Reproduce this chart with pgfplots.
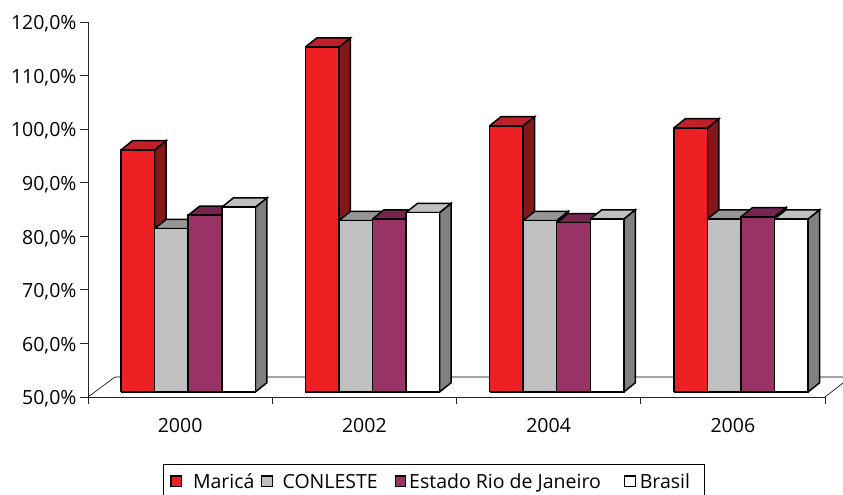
\documentclass[border=0pt]{standalone}
\usepackage{fontspec}
\setmainfont{Open Sans}
\usepackage{pgfplots}
\usepackage{pgfplotstable}
\pgfplotsset{compat=1.18}
\definecolor{redF}{HTML}{ED2024}
\definecolor{redT}{HTML}{C1202A}
\definecolor{redS}{HTML}{85161A}
\definecolor{grayF}{HTML}{C0C0C0}
\definecolor{grayT}{HTML}{969696}
\definecolor{grayS}{HTML}{707070}
\definecolor{purF}{HTML}{993366}
\definecolor{purT}{HTML}{772550}
\definecolor{purS}{HTML}{4D1A33}
\definecolor{whiF}{HTML}{FFFFFF}
\definecolor{whiT}{HTML}{C0C0C0}
\definecolor{whiS}{HTML}{808080}
\newcommand\fs{\fontsize{19.5}{23}\selectfont}

\pgfplotstableread{
year marica conleste estado brasil
2000 95.2 80.5 83.0 84.5
2002 114.4 82.0 82.3 83.5
2004 99.7 82.0 81.6 82.3
2006 99.3 82.3 82.7 82.3
}\datatable

\newcommand\BW{0.182}
\newcommand\DX{0.0625}
\newcommand\DY{1.72}
\newcommand\YB{50.93}
\tikzset{barline/.style={draw=black, line width=1.5pt, line join=miter}}
\newcommand\tdbar[4]{%
  \pgfplotstablegetelem{#1}{#3}\of\datatable
  \pgfmathsetmacro\yt{\pgfplotsretval+0.93}%
  \pgfmathsetmacro\ytt{\yt+\DY}%
  \pgfmathsetmacro\ybt{\YB+\DY}%
  \pgfmathsetmacro\xa{#1+0.18+#2*\BW}%
  \pgfmathsetmacro\xb{\xa+\BW}%
  \pgfmathsetmacro\xc{\xa+\DX}%
  \pgfmathsetmacro\xd{\xb+\DX}%
  \addplot[forget plot, fill=#4S, barline] coordinates {(\xb,\YB) (\xd,\ybt) (\xd,\ytt) (\xb,\yt) (\xb,\YB)};
  \addplot[forget plot, fill=#4T, barline] coordinates {(\xa,\yt) (\xb,\yt) (\xd,\ytt) (\xc,\ytt) (\xa,\yt)};
  \addplot[forget plot, fill=#4F, barline] coordinates {(\xa,\YB) (\xb,\YB) (\xb,\yt) (\xa,\yt) (\xa,\YB)};
}

\begin{document}
\begin{tikzpicture}
\useasboundingbox (-88pt,-98pt) rectangle (755pt,397pt);
\begin{axis}[
  at={(0pt,0pt)}, anchor=south west,
  scale only axis, width=737pt, height=375pt,
  xmin=0, xmax=4, ymin=50, ymax=120,
  clip=false,
  axis lines*=left,
  axis line style={line width=0.8pt, black!85},
  tick align=outside,
  xtick={0.5,1.5,2.5,3.5},
  xticklabels={2000,2002,2004,2006},
  major x tick style={draw=none},
  minor xtick={0,1,2,3,4},
  minor tick length=7pt,
  major tick length=8pt,
  ytick={50,60,70,80,90,100,110,120},
  yticklabels={{50,0\%},{60,0\%},{70,0\%},{80,0\%},{90,0\%},{100,0\%},{110,0\%},{120,0\%}},
  tick style={black!85, line width=0.8pt},
  ticklabel style={font=\fs},
  xticklabel style={yshift=-10pt},
  yticklabel style={yshift=-2pt},
  legend columns=4,
  legend style={at={(axis description cs:0.1018,-0.178)}, anchor=north west,
    draw=black, line width=0.8pt, font=\fs, column sep=0pt,
    inner xsep=7pt, inner ysep=9.5pt,
    nodes={inner sep=0pt, anchor=base west}},
]
\addplot[forget plot, black, line width=0.6pt] coordinates {(0,50) (0.1465,53.73) (4.098,53.73)};
\addplot[forget plot, black, line width=0.6pt] coordinates {(4,50) (4.098,52.62)};
\pgfplotsforeachungrouped \g in {0,1,2,3}{%
  \tdbar{\g}{0}{marica}{red}
  \tdbar{\g}{1}{conleste}{gray}
  \tdbar{\g}{2}{estado}{pur}
  \tdbar{\g}{3}{brasil}{whi}
}
\addlegendimage{legend image code/.code={\draw[fill=redF,draw=black,line width=1.2pt] (0pt,2pt) rectangle (10.5pt,12.5pt); \path[draw=none,fill=none] (0pt,0pt) -- (22pt,0pt);}}
\addlegendentry{\makebox[68pt][l]{Maricá}}
\addlegendimage{legend image code/.code={\draw[fill=grayF,draw=black,line width=1.2pt] (0pt,2pt) rectangle (10.5pt,12.5pt); \path[draw=none,fill=none] (0pt,0pt) -- (21pt,0pt);}}
\addlegendentry{\makebox[112pt][l]{CONLESTE}}
\addlegendimage{legend image code/.code={\draw[fill=purF,draw=black,line width=1.2pt] (0pt,2pt) rectangle (10.5pt,12.5pt); \path[draw=none,fill=none] (0pt,0pt) -- (14pt,0pt);}}
\addlegendentry{\makebox[215pt][l]{Estado Rio de Janeiro}}
\addlegendimage{legend image code/.code={\draw[fill=whiF,draw=black,line width=1.2pt] (0pt,2pt) rectangle (10.5pt,12.5pt); \path[draw=none,fill=none] (0pt,0pt) -- (15pt,0pt);}}
\addlegendentry{\makebox[58pt][l]{Brasil}}
\end{axis}
\end{tikzpicture}
\end{document}
